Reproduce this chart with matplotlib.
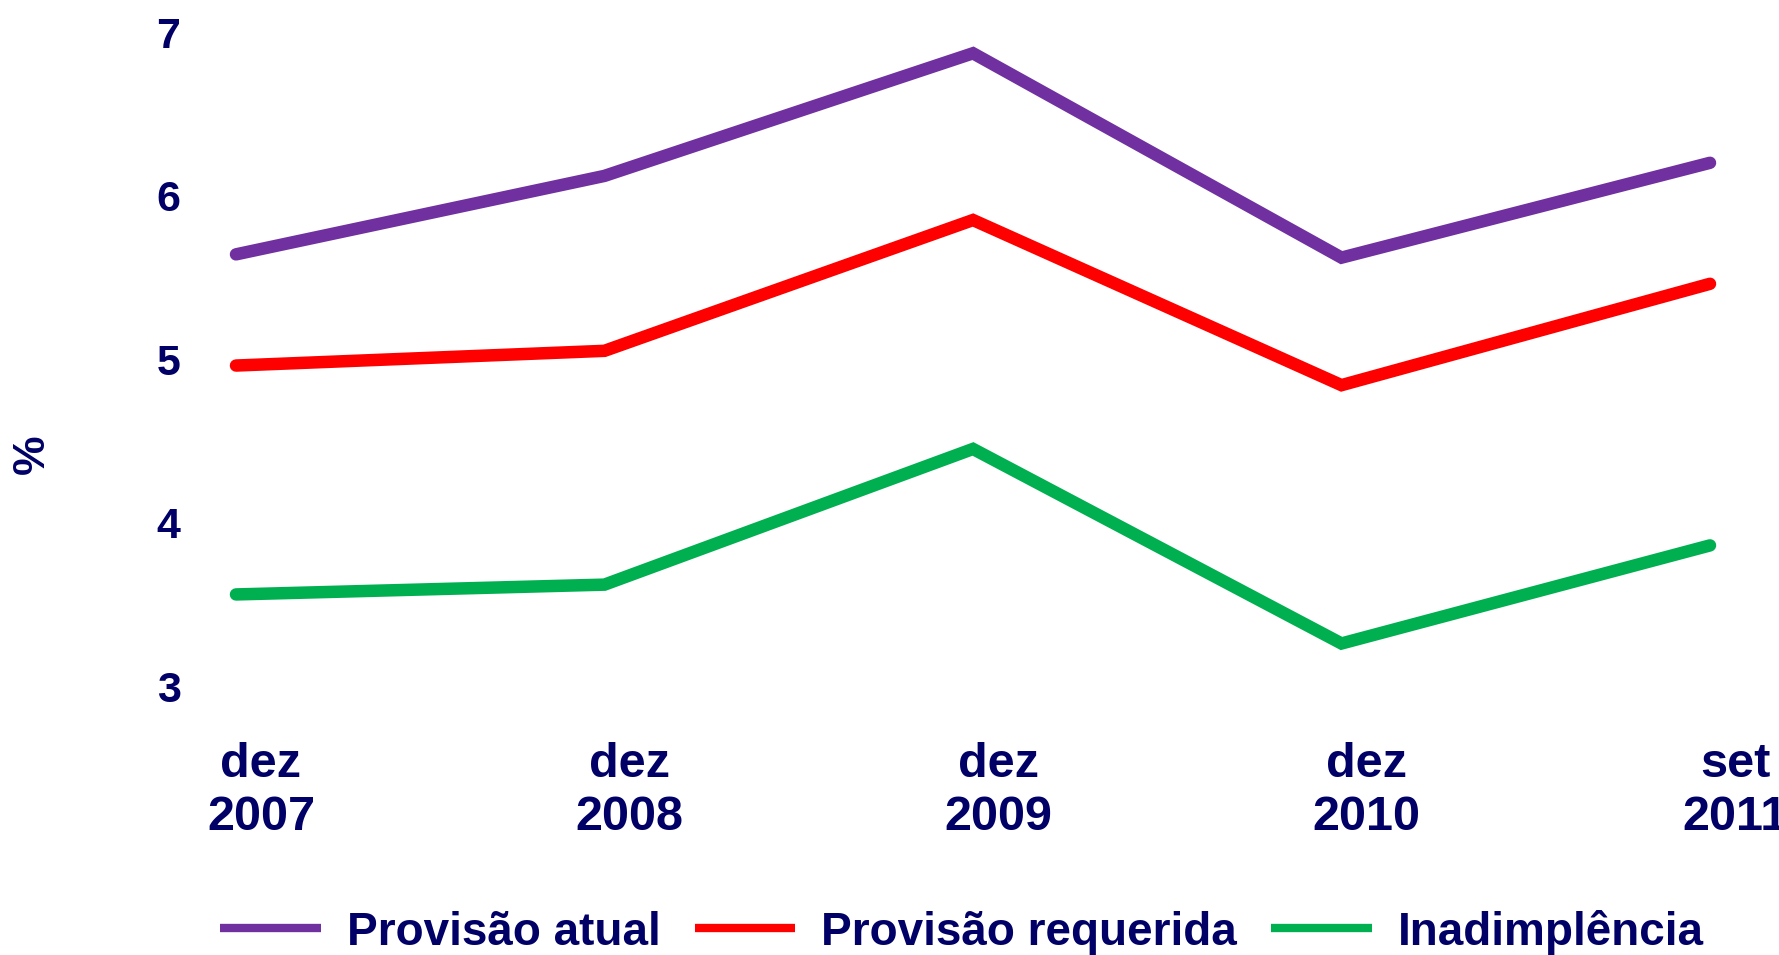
import matplotlib
matplotlib.use("Agg")
import matplotlib.pyplot as plt
import matplotlib.transforms as mtransforms

plt.rcParams['font.family'] = ['Liberation Sans', 'DejaVu Sans']
plt.rcParams['font.weight'] = 'bold'

periods = ["dez\n2007", "dez\n2008", "dez\n2009", "dez\n2010", "set\n2011"]
provisao_atual = [5.64, 6.12, 6.87, 5.62, 6.20]
provisao_requerida = [4.96, 5.05, 5.85, 4.84, 5.46]
inadimplencia = [3.56, 3.62, 4.45, 3.26, 3.86]

series = [
    ("Provisão atual", provisao_atual, "#7030A0"),
    ("Provisão requerida", provisao_requerida, "#FF0000"),
    ("Inadimplência", inadimplencia, "#00B050"),
]
navy = "#000066"

fig = plt.figure(figsize=(17.79, 9.55), dpi=100)
ax = fig.add_axes([236/1779, 1-686/955, (1710-236)/1779, (686-32)/955])

x = list(range(len(periods)))
for label, vals, color in series:
    ax.plot(x, vals, color=color, linewidth=9, solid_capstyle='round',
            solid_joinstyle='miter', label=label, clip_on=False)

ax.set_xlim(0, len(periods) - 1)
ax.set_ylim(3, 7)
ax.set_yticks([3, 4, 5, 6, 7])
ax.set_xticks(x)
ax.set_xticklabels(periods, fontsize=35, color=navy, fontweight='bold', linespacing=1.25)
for t in ax.get_yticklabels():
    t.set_fontsize(31)
    t.set_color(navy)
    t.set_fontweight('bold')
ax.tick_params(axis='both', length=0)
ax.tick_params(axis='y', pad=40)
ax.tick_params(axis='x', pad=40)
offset = mtransforms.ScaledTranslation(0.25, 0, fig.dpi_scale_trans)
for t in ax.get_xticklabels():
    t.set_transform(t.get_transform() + offset)
for s in ax.spines.values():
    s.set_visible(False)

fig.text(32/1779, 1-454/955, "%", rotation=90, fontsize=32, color=navy,
         fontweight='bold', ha='center', va='center')

handles, labels = ax.get_legend_handles_labels()
leg = fig.legend(handles, labels, loc='center', bbox_to_anchor=(962/1779, 1-932/955),
                 ncol=3, frameon=False, fontsize=33, handlelength=2.2,
                 handletextpad=0.57, columnspacing=0.74)
for t in leg.get_texts():
    t.set_color(navy)
    t.set_fontweight('bold')
for h in leg.get_lines():
    h.set_linewidth(6)
    h.set_solid_capstyle('butt')

fig.savefig("out.png", dpi=100)
